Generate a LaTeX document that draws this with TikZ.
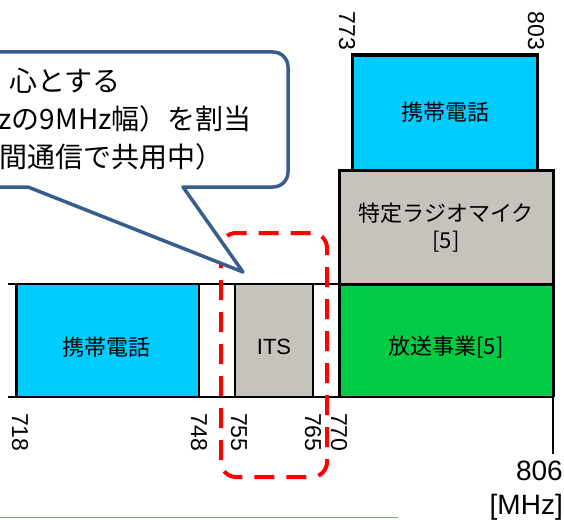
\documentclass[tikz,border=0pt]{standalone}
\usepackage{fontspec}
\setmainfont{Liberation Sans}
\newfontfamily\jp{Noto Sans CJK JP}
\usepackage[x11names, svgnames]{xcolor}
\usepackage{tikz}
\usetikzlibrary{calc}
\definecolor{keitai}{RGB}{0,204,255}
\definecolor{hoso}{RGB}{0,204,68}
\definecolor{micgray}{RGB}{198,195,188}
\definecolor{calloutblue}{RGB}{56,93,138}
\definecolor{slideline}{RGB}{127,156,192}
\tikzset{
  band/.style={draw=black, line width=3pt},
  bandlabel/.style={font=\jp\fontsize{22}{27}\selectfont, align=center, inner sep=0pt},
  freq/.style={font=\fontsize{23}{23}\selectfont, rotate=-90, inner sep=0pt},
  unitlabel/.style={font=\fontsize{28}{28}\selectfont, anchor=east, inner sep=0pt},
  callouttext/.style={font=\jp\fontsize{28}{28}\selectfont, inner sep=0pt},
}

\begin{document}
\begin{tikzpicture}[x=1pt, y=-1pt]
	\useasboundingbox (0,0) rectangle (564,519);

	% lower band
	\fill[keitai] (16,284) rectangle (199,397);
	\fill[micgray] (235,284) rectangle (313,397);
	\fill[hoso] (339,284) rectangle (553,397);

	% upper stack
	\filldraw[band, fill=micgray] (339,170) rectangle (553,284);
	\filldraw[band, fill=keitai] (352,55) rectangle (537,170);

	\draw[line width=2.5pt] (8,284) -- (553,284);
	\draw[line width=2.5pt] (8,397) -- (553,397);
	\draw[line width=3pt] (16,284) -- (16,397);
	\foreach \x in {199,235,313}
		\draw[line width=2pt] (\x,284) -- (\x,397);
	\draw[line width=3pt] (339,284) -- (339,397);
	\draw[line width=3pt] (553,284) -- (553,397);
	\draw[line width=2pt] (553,397) -- (553,454);

	\node[bandlabel] (keitaiLow) at (106,347) {携帯電話};
	\node[bandlabel, font=\fontsize{22}{22}\selectfont] (its) at (274,347) {ITS};
	\node[bandlabel] (hoso) at (446,347) {放送事業[5]};
	\node[bandlabel] (mic) at (446,228) {特定ラジオマイク\\{[5]}};
	\node[bandlabel] (keitaiUp) at (445,112) {携帯電話};

	% frequencies
	\foreach \x/\f in {20/718, 199/748, 239/755, 313/765, 339/770}
		\node[freq, anchor=west] (lbl\f) at (\x,413) {\f};
	\node[freq, anchor=east] (lbl773) at (347,50) {773};
	\node[freq, anchor=east] (lbl803) at (536,50) {803};
	\node[unitlabel] (lbl806) at (563,471) {806};
	\node[unitlabel] (unit) at (563,507) {[MHz]};

	\draw[red, line width=4pt, dash pattern=on 20pt off 12pt, rounded corners=15pt] (221,233) rectangle (327,477);

	% callout
	\filldraw[draw=calloutblue, fill=white, line width=3.5pt, line join=round] (-60,52) -- (273,52) arc[start angle=-90, end angle=0, radius=15] -- (288,172) arc[start angle=0, end angle=90, radius=15] -- (183,187) -- (243,272) -- (28,187) -- (-60,187) -- cycle;
	\node[callouttext, anchor=west] (note1) at (9,81) {心とする};
	\node[callouttext, anchor=east] (note2) at (252,119) {zの9MHz幅）を割当};
	\node[callouttext, anchor=west] (note3) at (-1,157) {間通信で共用中）};

	\draw[slideline, line width=1pt] (0,517) -- (398,517);

\end{tikzpicture}
\end{document}
